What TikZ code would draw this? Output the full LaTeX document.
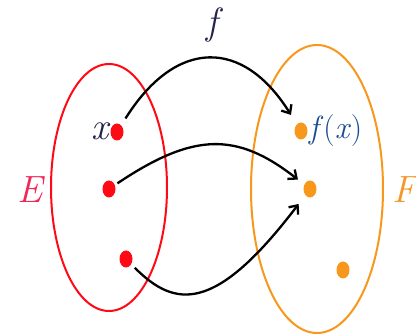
\documentclass[tikz,border=0pt]{standalone}
\usetikzlibrary{arrows.meta,shapes.geometric}
\definecolor{setred}{RGB}{255,10,20}
\definecolor{setorange}{RGB}{247,152,28}
\definecolor{labE}{RGB}{240,40,90}
\definecolor{labF}{RGB}{245,150,40}
\definecolor{labdark}{RGB}{35,35,75}
\definecolor{labblue}{RGB}{25,75,145}
\tikzset{
  setline/.style={line width=2pt},
  reddot/.style={ellipse,fill=setred,draw=none,minimum width=13pt,minimum height=17pt,inner sep=0pt},
  orangedot/.style={ellipse,fill=setorange,draw=none,minimum width=13pt,minimum height=17pt,inner sep=0pt},
  maparrow/.style={line width=2.3pt,-{Straight Barb[length=7pt,width=12pt]}},
  biglabel/.style={inner sep=0pt,font=\fontsize{38}{42}\selectfont\itshape},
  fxlabel/.style={inner sep=0pt,font=\fontsize{32}{36}\selectfont}
}
\begin{document}
\begin{tikzpicture}[x=1pt,y=1pt]
\useasboundingbox (0,0) rectangle (416,336);
% sets
\node[draw=setred,setline,ellipse,minimum width=116pt,minimum height=247pt,inner sep=0pt] (E) at (109,148.5) {};
\node[draw=setorange,setline,ellipse,minimum width=132pt,minimum height=288pt,inner sep=0pt] (F) at (317,147) {};
% points
\node[reddot] (e1) at (117,204) {};
\node[reddot] (e2) at (109,147) {};
\node[reddot] (e3) at (126,77) {};
\node[orangedot] (f1) at (301,205) {};
\node[orangedot] (f2) at (310,147) {};
\node[orangedot] (f3) at (343,66) {};
% labels
\node[biglabel,text=labdark] (lx) at (100,205) {x};
\node[fxlabel,text=labblue,anchor=west] (lfx) at (309,205) {\textit{f}(\textit{x})};
\node[biglabel,text=labE] (lE) at (30,146) {E};
\node[biglabel,text=labF] (lF) at (405,146) {F};
\node[biglabel,text=labdark] (lf) at (212,311) {f};
% arrows
\draw[maparrow,shorten <=8pt,shorten >=11pt] (e1) .. controls (176,298) and (243,298) .. (f1);
\draw[maparrow,shorten <=3pt,shorten >=8pt] (e2) .. controls (194,204) and (237,204) .. (f2);
\draw[maparrow,shorten <=5pt,shorten >=11pt] (e3) .. controls (175,28) and (215,22) .. (f2);
\end{tikzpicture}
\end{document}
